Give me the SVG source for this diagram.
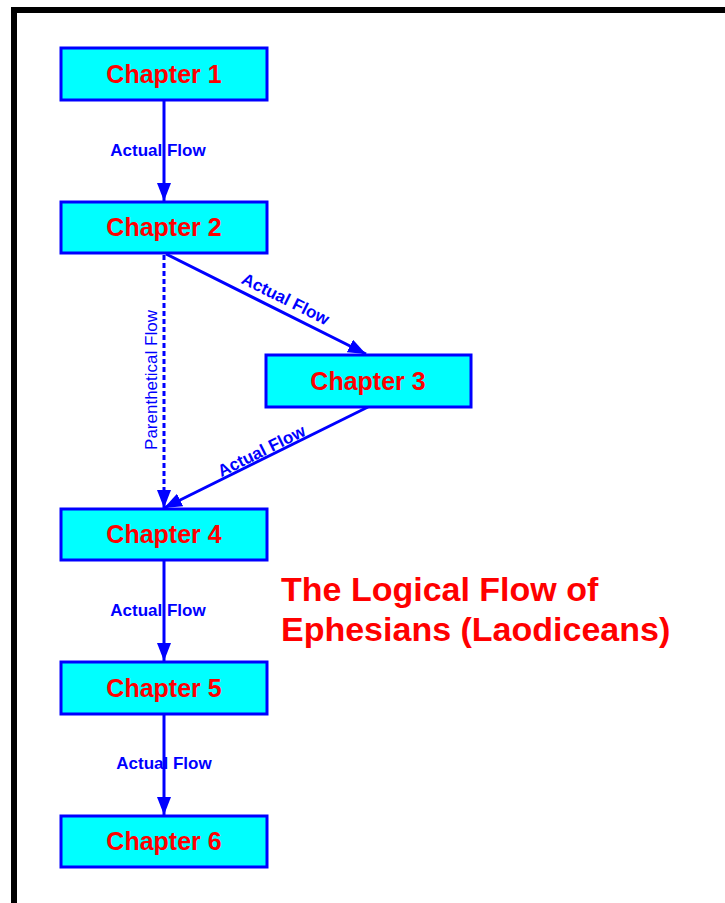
<svg xmlns="http://www.w3.org/2000/svg" width="725" height="903" viewBox="0 0 725 903">
<style>
.box{fill:#00ffff;stroke:#0000ff;stroke-width:3}
.ch{font-family:"Liberation Sans",Arial,sans-serif;font-weight:bold;font-size:25px;fill:#ff0000;text-anchor:middle}
.edge{stroke:#0000ff;stroke-width:3;fill:none}
.lbl{font-family:"Liberation Sans",Arial,sans-serif;font-weight:bold;font-size:17px;fill:#0000ff;text-anchor:middle}
.plbl{font-family:"Liberation Sans",Arial,sans-serif;font-size:17px;fill:#0000ff;text-anchor:middle}
.title{font-family:"Liberation Sans",Arial,sans-serif;font-weight:bold;font-size:34px;fill:#ff0000}
</style>
<defs>
<marker id="ah" viewBox="0 0 18 14" refX="18" refY="7" markerWidth="18" markerHeight="14" markerUnits="userSpaceOnUse" orient="auto">
<path d="M0,0 L18,7 L0,14 Z" fill="#0000ff"/>
</marker>
</defs>
<rect width="725" height="903" fill="#ffffff"/>
<path d="M14,903 V10 H725" stroke="#000000" stroke-width="6" fill="none"/>
<g id="connectors">
<line class="edge" x1="164" y1="100" x2="164" y2="201" marker-end="url(#ah)"/>
<text class="lbl" x="158" y="156">Actual Flow</text>
<line class="edge" x1="166" y1="254" x2="366" y2="354" marker-end="url(#ah)"/>
<text class="lbl" transform="translate(283,304) rotate(26.57)" x="0" y="0">Actual Flow</text>
<line class="edge" x1="164" y1="255" x2="164" y2="508" stroke-dasharray="5,3" marker-end="url(#ah)"/>
<text class="plbl" transform="translate(157,380) rotate(-90)" x="0" y="0">Parenthetical Flow</text>
<line class="edge" x1="368" y1="407" x2="164" y2="508" marker-end="url(#ah)"/>
<text class="lbl" transform="translate(264,456) rotate(-26.3)" x="0" y="0">Actual Flow</text>
<line class="edge" x1="164" y1="560" x2="164" y2="661" marker-end="url(#ah)"/>
<text class="lbl" x="158" y="616">Actual Flow</text>
<line class="edge" x1="164" y1="714" x2="164" y2="815" marker-end="url(#ah)"/>
<text class="lbl" x="164" y="769">Actual Flow</text>
</g>
<g id="ch1"><rect class="box" x="61" y="48" width="206" height="52"/><text class="ch" x="164" y="83">Chapter 1</text></g>
<g id="ch2"><rect class="box" x="61" y="202" width="206" height="51"/><text class="ch" x="164" y="236">Chapter 2</text></g>
<g id="ch3"><rect class="box" x="266" y="355" width="205" height="52"/><text class="ch" x="368" y="390">Chapter 3</text></g>
<g id="ch4"><rect class="box" x="61" y="509" width="206" height="51"/><text class="ch" x="164" y="543">Chapter 4</text></g>
<g id="ch5"><rect class="box" x="61" y="662" width="206" height="52"/><text class="ch" x="164" y="697">Chapter 5</text></g>
<g id="ch6"><rect class="box" x="61" y="816" width="206" height="51"/><text class="ch" x="164" y="850">Chapter 6</text></g>
<g id="title">
<text class="title" x="281" y="601">The Logical Flow of</text>
<text class="title" x="281" y="641">Ephesians (Laodiceans)</text>
</g>
</svg>
